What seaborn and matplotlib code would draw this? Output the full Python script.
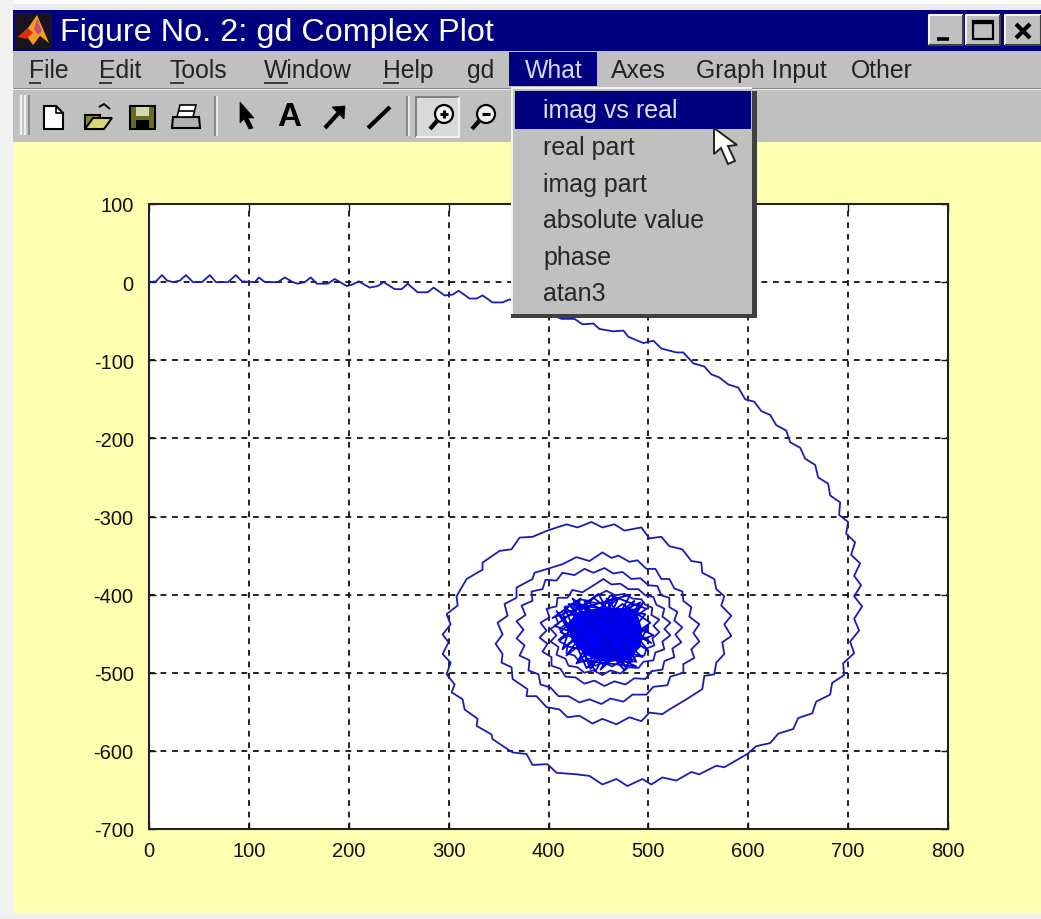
import matplotlib
matplotlib.use("Agg")
import matplotlib.pyplot as plt
from matplotlib.patches import Rectangle, Polygon, Circle
import seaborn as sns

# --------------------------------------------------
# Data
# --------------------------------------------------
# tail and the two outer loops
real_part = [
    1, 7, 13, 18, 24, 31, 37, 44, 53, 61, 67, 79, 87, 93, 106, 110, 116, 129, 136, 144,
    149, 156, 162, 168, 179, 186, 198, 204, 210, 221, 229, 235, 246, 253, 259, 269, 279, 285, 296, 304,
    310, 321, 328, 334, 344, 354, 361, 376, 390, 413, 426, 434, 445, 451, 465, 475, 480, 495, 505, 513,
    528, 535, 545, 556, 563, 571, 580, 590, 597, 606, 613, 622, 628, 638, 642, 652, 657, 667, 670, 680,
    682, 692, 691, 700, 698, 707, 703, 712, 706, 713, 706, 714, 706, 711, 702, 706, 695, 696, 684, 682,
    668, 664, 650, 645, 630, 622, 608, 599, 576, 568, 551, 543, 528, 514, 503, 494, 479, 468, 454, 441,
    428, 408, 399, 384, 378, 364, 344, 343, 328, 329, 316, 314, 303, 306, 298, 302, 294, 300, 294, 302,
    298, 309, 308, 318, 334, 334, 351, 363, 371, 384, 399, 418, 429, 443, 454, 466, 476, 493, 501, 513,
    521, 534, 543, 553, 554, 566, 568, 576, 573, 583, 576, 583, 574, 576, 568, 566, 556, 554, 538, 521,
    514, 501, 493, 481, 468, 454, 444, 431, 419, 411, 398, 388, 378, 379, 364, 363, 353, 354, 347, 354,
    349, 359, 356, 368, 368, 384, 386, 399, 414, 428, 441,
]
imag_part = [
    0, 1, 9, 2, 0, 2, 9, 0, 0, 9, 0, 0, 9, 1, 0, 6, 0, 0, 6, 0,
    -2, 0, 6, -2, -2, 4, -5, -3, 1, -7, -5, 0, -9, -9, -2, -13, -13, -7, -17, -16,
    -11, -21, -21, -17, -26, -26, -22, -31, -35, -47, -47, -54, -53, -60, -63, -62, -70, -78, -75, -85,
    -90, -90, -104, -108, -118, -122, -131, -135, -150, -153, -165, -170, -183, -190, -205, -212, -226, -234, -250, -258,
    -273, -282, -298, -307, -322, -333, -349, -360, -376, -388, -402, -415, -431, -446, -460, -475, -488, -503, -513, -528,
    -537, -552, -558, -572, -578, -590, -594, -604, -621, -619, -630, -627, -638, -634, -643, -636, -645, -636, -643, -632,
    -630, -628, -617, -618, -604, -602, -585, -579, -568, -559, -547, -534, -525, -515, -502, -487, -476, -461, -451, -438,
    -425, -414, -402, -380, -368, -359, -344, -342, -327, -326, -318, -310, -314, -307, -314, -310, -318, -314, -328, -326,
    -338, -342, -357, -359, -372, -380, -393, -402, -414, -427, -438, -453, -461, -476, -487, -502, -504, -521, -534, -547,
    -553, -551, -562, -557, -566, -559, -565, -555, -557, -547, -544, -530, -530, -521, -508, -493, -487, -476, -463, -451,
    -436, -427, -412, -404, -391, -380, -372, -367, -361, -352, -357,
]
# inner web, four more turns
web_real = [
    454, 463, 470, 481, 489, 498, 507, 513, 521, 526, 534, 535, 543, 541, 551, 545, 551, 543, 546, 535,
    535, 522, 519, 505, 498, 484, 475, 462, 453, 441, 431, 420, 410, 402, 392, 390, 380, 381, 371, 376,
    368, 375, 368, 377, 373, 384, 383, 394, 397, 408, 414, 426, 436, 445,
    456, 465, 474, 483, 492, 500, 509, 513, 521, 521, 529, 526, 534, 527, 533, 524, 526, 516, 514, 503,
    497, 486, 477, 466, 456, 446, 436, 427, 417, 412, 403, 403, 394, 399, 391, 398, 392, 401, 398, 408,
    409, 419, 424, 434, 444,
    455, 463, 472, 480, 490, 497, 505, 508, 516, 514, 522, 516, 522, 514, 516, 507, 505, 495, 490, 480,
    472, 462, 454, 445, 436, 429, 420, 417, 408, 410, 402, 408, 402, 410, 407, 416, 417, 426, 431, 441,
    449,
    458, 467, 476, 484, 493, 497, 504, 503, 511, 505, 511, 504, 506, 498, 496, 487, 482, 472, 464, 455,
    447, 439, 431, 426, 418, 419, 411, 416, 411, 418, 415, 424, 425, 434, 440, 449,
]
web_imag = [
    -346, -353, -350, -358, -356, -367, -367, -380, -380, -392, -396, -408, -416, -428, -438, -449, -460, -470, -481, -489,
    -500, -505, -516, -518, -528, -528, -537, -533, -540, -534, -538, -530, -530, -519, -515, -502, -497, -484, -478, -465,
    -456, -445, -434, -426, -414, -408, -396, -393, -381, -382, -372, -375, -367, -372,
    -366, -373, -371, -380, -379, -388, -389, -401, -404, -416, -422, -433, -442, -451, -461, -469, -480, -485, -496, -498,
    -508, -507, -515, -511, -517, -510, -514, -506, -505, -495, -491, -480, -473, -463, -455, -446, -436, -429, -418, -415,
    -404, -404, -394, -397, -389,
    -380, -387, -386, -393, -393, -401, -403, -413, -418, -428, -436, -444, -452, -460, -470, -474, -484, -486, -494, -493,
    -501, -497, -503, -497, -500, -493, -491, -482, -477, -467, -460, -452, -444, -437, -428, -425, -415, -415, -406, -408,
    -401,
    -395, -401, -399, -405, -406, -413, -417, -426, -432, -440, -448, -456, -465, -469, -478, -479, -487, -485, -492, -487,
    -491, -485, -486, -478, -475, -465, -460, -452, -444, -437, -429, -426, -417, -417, -409, -411,
]
# solid middle and the strands crossing its edge
core_x = [421, 430, 454, 487, 493, 492, 480, 458, 438, 424]
core_y = [-436, -423, -417, -419, -444, -466, -482, -486, -477, -459]
tangle_x = [
    404, 432, 414, 470, 440, 495, 452, 500, 476, 425, 503, 445, 412, 488, 430, 498, 462, 418, 486, 447,
    408, 455, 497, 420, 478, 436, 505, 428, 466, 410, 492, 442, 416, 484, 458, 500, 424, 472, 434, 494,
    406, 450, 488, 418, 474, 502, 438, 414, 482, 446,
]
tangle_y = [
    -430, -405, -470, -404, -492, -410, -496, -440, -497, -410, -462, -404, -448, -492, -484, -418, -401, -478, -408, -498,
    -421, -490, -425, -412, -494, -408, -452, -488, -403, -458, -410, -495, -416, -486, -405, -472, -405, -491, -414, -480,
    -440, -399, -486, -466, -412, -436, -494, -424, -400, -482,
]

x_ticks = [0, 100, 200, 300, 400, 500, 600, 700, 800]
y_ticks = [100, 0, -100, -200, -300, -400, -500, -600, -700]

menu_items = ["File", "Edit", "Tools", "Window", "Help", "gd", "What", "Axes", "Graph Input", "Other"]
menu_left = [29, 99, 170, 264, 383, 467, 525, 611, 696, 851]
what_items = ["imag vs real", "real part", "imag part", "absolute value", "phase", "atan3"]
what_y = [111, 148, 185, 221, 258, 294]

NAVY = "#000080"
GRAY = "#c0c0c0"
YELLOW = "#ffffb0"
LINE_BLUE = "#1c1cb4"
W, H = 1041, 920

sns.set_style("white")
plt.rcParams["font.family"] = "Liberation Sans"

fig = plt.figure(figsize=(W / 100, H / 100), dpi=100, facecolor=YELLOW)

# --------------------------------------------------
# The plot itself
# --------------------------------------------------
ax = fig.add_axes([149 / W, 1 - 830 / H, (948 - 149) / W, (830 - 205) / H], facecolor="white")
sns.lineplot(x=real_part + web_real, y=imag_part + web_imag, sort=False, estimator=None,
             color=LINE_BLUE, linewidth=1.3, ax=ax, zorder=3)
ax.fill(core_x, core_y, color="#0000ff", zorder=4)
sns.lineplot(x=tangle_x, y=tangle_y, sort=False, estimator=None, color="#0000e0", linewidth=1.3, ax=ax, zorder=4)

ax.set_xlim(0, 800)
ax.set_ylim(-700, 100)
ax.set_xticks(x_ticks)
ax.set_yticks(y_ticks)
ax.set_xticklabels([str(v) for v in x_ticks])
ax.set_yticklabels([str(v) for v in y_ticks])
ax.tick_params(direction="in", length=5, width=1, labelsize=14.5, colors="#111111", top=True, right=True, left=True, bottom=True)
ax.tick_params(axis="x", pad=9)
ax.tick_params(axis="y", pad=11)
ax.grid(True, color="#111111", linewidth=1.3, linestyle=(0, (3.2, 3.2)))
ax.set_axisbelow(True)
for s in ax.spines.values():
    s.set_visible(True)
    s.set_color("#222222")
    s.set_linewidth(1.5)

# --------------------------------------------------
# Window around the plot, drawn in pixel coordinates
# --------------------------------------------------
ui = fig.add_axes([0, 0, 1, 1], zorder=10)
ui.set_xlim(0, W)
ui.set_ylim(H, 0)
ui.axis("off")


def box(x0, y0, x1, y1, color, z=1):
    ui.add_patch(Rectangle((x0, y0), x1 - x0, y1 - y0, facecolor=color, edgecolor="none", zorder=z))


def poly(pts, face, edge="black", lw=1.5, z=3):
    ui.add_patch(Polygon(pts, closed=True, facecolor=face, edgecolor=edge, linewidth=lw, zorder=z))


def stroke(xs, ys, color="black", lw=2, z=3):
    ui.plot(xs, ys, color=color, linewidth=lw, zorder=z, solid_capstyle="butt")


def raised(x0, y0, x1, y1, z=2):
    box(x0, y0, x1, y1, GRAY, z)
    stroke([x0, x0, x1], [y1, y0, y0], "#f4f4f4", 1.5, z + 0.1)
    stroke([x0, x1, x1], [y1, y1, y0], "#404040", 1.5, z + 0.1)


# outer frame
box(0, 0, W, 5, "#fafafa")
box(0, 5, W, 11, "#ececec")
box(0, 0, 13, H, "#f2f2f2")
box(0, 915, W, H, "#eeeeee")

# title bar
box(13, 11, W, 52, NAVY)
box(15, 14, 52, 50, "#1a1420", 2)
poly([(18, 38), (28, 29), (37, 16), (43, 30), (49, 44), (40, 37), (33, 46), (26, 36)], "#f0a020", "none", 0)
poly([(18, 38), (28, 29), (33, 34), (26, 40)], "#e02a10", "none", 0, 4)
poly([(37, 20), (42, 32), (38, 36), (34, 30)], "#d04878", "none", 0, 4)
ui.text(60, 33, "Figure No. 2: gd Complex Plot", color="white", fontsize=23.3, va="center", ha="left", zorder=4)

raised(929, 16, 963, 46)
stroke([937, 949], [40, 40], "black", 2.6)
raised(966, 16, 1000, 46)
ui.add_patch(Rectangle((973, 22), 20, 18, facecolor="none", edgecolor="black", linewidth=1.6, zorder=4))
stroke([973, 993], [23, 23], "black", 2.4, 4)
raised(1005, 16, 1041, 46)
stroke([1016, 1030], [25, 39], "black", 3, 4)
stroke([1030, 1016], [25, 39], "black", 3, 4)

# menu bar
box(13, 52, W, 143, GRAY)
stroke([13, W], [90, 90], "#eeeeee", 1.6)
stroke([13, W], [88.5, 88.5], "#8c8c8c", 0.8)
box(509, 53, 597, 87, NAVY, 2)
for name, left in zip(menu_items, menu_left):
    c = "#d8d8e8" if name == "What" else "#222222"
    ui.text(left, 71, name, color=c, fontsize=17.8, va="center", ha="left", zorder=4)
# keyboard underlines
for x0, x1 in [(29, 41), (99, 112), (170, 184), (264, 288), (383, 399)]:
    stroke([x0, x1], [84, 84], "#222222", 1.2, 4)

# toolbar
for x0 in [21, 25]:
    stroke([x0, x0], [96, 136], "#f0f0f0", 1.6)
stroke([29, 29], [96, 136], "#808080", 1.2)
for x0 in [215, 407]:
    stroke([x0, x0], [97, 137], "#808080", 1.2)
    stroke([x0 + 2, x0 + 2], [97, 137], "#f0f0f0", 1.2)

# new / open / save / print
poly([(44, 107), (56, 107), (63, 114), (63, 130), (44, 130)], "white")
stroke([56, 56, 63], [107, 114, 114], "black", 1.2, 4)
poly([(85, 116), (100, 116), (100, 130), (85, 130)], "#8b8b2a")
poly([(85, 130), (93, 119), (112, 119), (104, 130)], "#d8d878")
stroke([99, 104, 110], [108, 105, 110], "black", 1.4)
poly([(130, 107), (155, 107), (155, 130), (130, 130)], "#6a6a22")
box(136, 108, 149, 117, "#d8d8b0", 4)
box(136, 121, 149, 130, "black", 4)
poly([(173, 118), (199, 118), (200, 129), (172, 129)], "#b0b0b0")
poly([(180, 106), (196, 106), (193, 118), (177, 118)], "white", lw=1.2)
stroke([178, 194], [112, 112], "black", 1.2, 4)

# cursor / text / arrow / line
poly([(240, 103), (254, 119), (248, 119), (253, 129), (249, 130), (244, 120), (240, 124)], "black", lw=0.5)
ui.text(289, 118, "A", color="black", fontsize=24, fontweight="bold", ha="center", va="center", zorder=4)
stroke([325, 344], [129, 108], "black", 3)
poly([(332, 108), (345, 107), (344, 120)], "black", lw=0.5)
stroke([368, 390], [129, 108], "black", 3)

# zoom buttons
box(416, 98, 459, 138, "#d9d9d9", 2)
stroke([416, 416, 459], [138, 98, 98], "#808080", 1.4)
stroke([416, 459, 459], [138, 138, 98], "#f4f4f4", 1.4)
for cx, glyph in [(444, "+"), (486, "-")]:
    ui.add_patch(Circle((cx, 115), 9, facecolor="#f0f0f0", edgecolor="black", linewidth=1.6, zorder=4))
    stroke([cx - 7, cx - 14], [122, 130], "black", 3, 4)
    stroke([cx - 4, cx + 4], [115, 115], "black", 2.2, 5)
    if glyph == "+":
        stroke([cx, cx], [111, 119], "black", 2.2, 5)

# dropdown
box(750, 92, 757, 319, "#404040", 6)
box(511, 313, 757, 319, "#404040", 6)
box(511, 88, 752, 315, GRAY, 7)
stroke([511, 752], [89, 89], "#f0f0f0", 1.5, 7.5)
stroke([512, 512], [88, 315], "#f0f0f0", 1.5, 7.5)
box(515, 92, 751, 130, NAVY, 8)
for name, yy in zip(what_items, what_y):
    c = "#e0e0f0" if name == "imag vs real" else "#262626"
    ui.text(543, yy, name, color=c, fontsize=18, va="center", ha="left", zorder=9)

# mouse pointer
poly([(714, 129), (714, 155), (721, 149), (728, 165), (735, 162), (728, 147), (737, 146)], "white", "#222222", 1.4, 10)

fig.savefig("out.png", dpi=100, facecolor=fig.get_facecolor())
